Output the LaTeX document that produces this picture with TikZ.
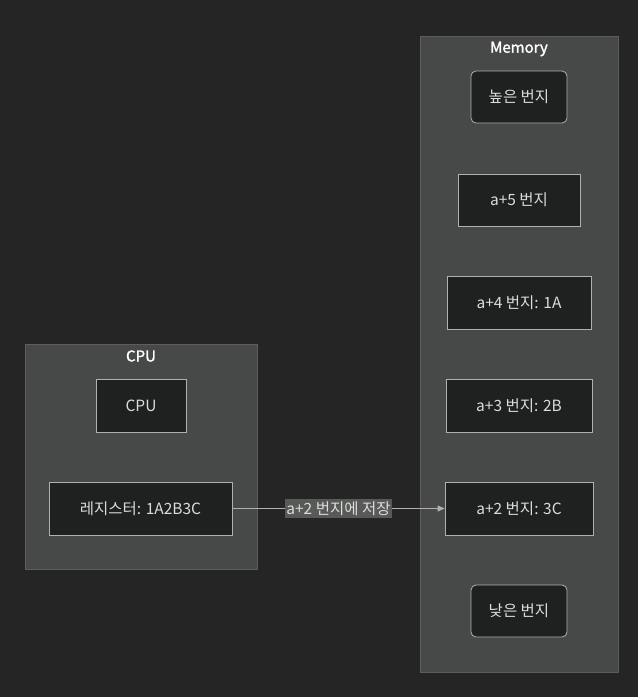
\documentclass[tikz,border=0pt]{standalone}
\usepackage{fontspec}
\setmainfont{Noto Sans CJK KR}[BoldFont={Noto Sans CJK KR},BoldFeatures={FakeBold=1.5}]
\usetikzlibrary{arrows.meta}
\definecolor{bg}{HTML}{252525}
\definecolor{clfill}{HTML}{474948}
\definecolor{clline}{HTML}{5C5D5C}
\definecolor{nfill}{HTML}{1F2020}
\definecolor{nline}{HTML}{B0B0B0}
\definecolor{ntext}{HTML}{DCDCDC}
\definecolor{lblfill}{HTML}{585A58}
\tikzset{
  cluster/.style={draw=clline, fill=clfill, line width=1pt},
  ctitle/.style={text=white, font=\fontsize{15}{17}\selectfont\bfseries, inner sep=0pt},
  box/.style={draw=nline, fill=nfill, text=ntext, line width=0.8pt, font=\fontsize{15.5}{17}\selectfont, inner sep=0pt},
  rbox/.style={box, rounded corners=5pt},
  edge/.style={draw=nline, line width=0.8pt, -{Triangle[length=7pt,width=6pt]}},
  elabel/.style={fill=lblfill, text=ntext, font=\fontsize{15.5}{17}\selectfont, inner xsep=1pt, inner ysep=2pt}
}
\begin{document}
\begin{tikzpicture}[x=1pt,y=-1pt]
\fill[bg] (0,0) rectangle (638,697);
\useasboundingbox (0,0) rectangle (638,697);
% clusters
\draw[cluster] (420,36) rectangle (618,672);
\node[ctitle] (memt) at (519,49) {Memory};
\draw[cluster] (25,344) rectangle (257,569);
\node[ctitle] (cput) at (141,356) {CPU};
% memory nodes
\node[rbox, minimum width=96pt, minimum height=52pt] (high) at (519,97) {높은 번지};
\node[box, minimum width=122pt, minimum height=52pt] (a5) at (519,200) {a+5 번지};
\node[box, minimum width=144pt, minimum height=53pt] (a4) at (519,302.5) {a+4 번지: 1A};
\node[box, minimum width=146pt, minimum height=53pt] (a3) at (519,405.5) {a+3 번지: 2B};
\node[box, minimum width=148pt, minimum height=53pt] (a2) at (519,508.5) {a+2 번지: 3C};
\node[rbox, minimum width=96pt, minimum height=52pt] (low) at (519,611) {낮은 번지};
% cpu nodes
\node[box, minimum width=90pt, minimum height=53pt] (cpu) at (141,405.5) {CPU};
\node[box, minimum width=183pt, minimum height=53pt] (reg) at (140.5,508.5) {레지스터: 1A2B3C};
% edge
\draw[edge] (reg) -- node[elabel] (lbl) {a+2 번지에 저장} (a2);
\end{tikzpicture}
\end{document}
